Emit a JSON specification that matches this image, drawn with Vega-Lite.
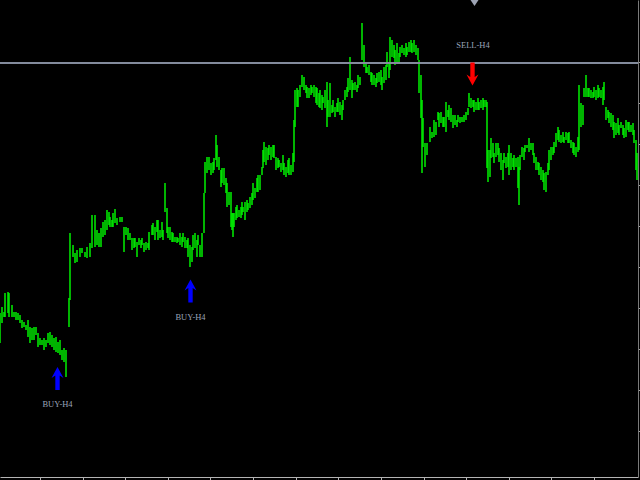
{
"$schema": "https://vega.github.io/schema/vega-lite/v6.json",
"width": 638,
"height": 477,
"autosize": {"type": "none"},
"padding": {"left": 0, "top": 0, "right": 2, "bottom": 3},
"background": "#000000",
"config": {"view": {"stroke": null}},
"datasets": {
"bars": [
{"t":0,"high":187,"low":157},{"t":2,"high":193,"low":177},{"t":4,"high":188,"low":183},{"t":5,"high":207,"low":183},{"t":8,"high":208,"low":187},{"t":9,"high":207,"low":183},{"t":12,"high":195,"low":183},{"t":14,"high":188,"low":183},{"t":16,"high":188,"low":180},{"t":18,"high":187,"low":180},{"t":20,"high":185,"low":177},{"t":22,"high":180,"low":172},{"t":24,"high":178,"low":173},{"t":26,"high":175,"low":170},{"t":28,"high":180,"low":163},{"t":30,"high":173,"low":157},{"t":32,"high":172,"low":160},{"t":34,"high":173,"low":160},{"t":36,"high":173,"low":165},{"t":38,"high":167,"low":153},{"t":40,"high":162,"low":155},{"t":42,"high":160,"low":155},{"t":44,"high":162,"low":150},{"t":46,"high":160,"low":153},{"t":48,"high":167,"low":157},{"t":50,"high":168,"low":155},{"t":52,"high":165,"low":153},{"t":54,"high":162,"low":150},{"t":56,"high":163,"low":148},{"t":58,"high":158,"low":147},{"t":60,"high":160,"low":145},{"t":62,"high":150,"low":140},{"t":64,"high":152,"low":138},{"t":66,"high":150,"low":123},{"t":69,"high":202,"low":173},{"t":70,"high":267,"low":200},{"t":73,"high":255,"low":243},{"t":75,"high":247,"low":237},{"t":77,"high":250,"low":238},{"t":80,"high":252,"low":243},{"t":82,"high":252,"low":247},{"t":85,"high":248,"low":243},{"t":87,"high":253,"low":242},{"t":90,"high":257,"low":243},{"t":92,"high":285,"low":252},{"t":95,"high":285,"low":253},{"t":97,"high":270,"low":255},{"t":99,"high":267,"low":253},{"t":101,"high":272,"low":253},{"t":103,"high":278,"low":263},{"t":105,"high":280,"low":265},{"t":107,"high":290,"low":270},{"t":109,"high":288,"low":275},
{"t":110,"high":283,"low":273},{"t":112,"high":280,"low":273},{"t":113,"high":287,"low":273},{"t":115,"high":291,"low":277},{"t":117,"high":282,"low":275},{"t":120,"high":283,"low":278},{"t":122,"high":283,"low":278},{"t":124,"high":273,"low":248},{"t":126,"high":273,"low":265},{"t":128,"high":272,"low":260},{"t":130,"high":267,"low":260},{"t":132,"high":262,"low":250},{"t":134,"high":262,"low":252},{"t":135,"high":262,"low":253},{"t":137,"high":258,"low":243},{"t":139,"high":262,"low":255},{"t":141,"high":260,"low":252},{"t":142,"high":262,"low":255},{"t":144,"high":257,"low":248},{"t":146,"high":258,"low":250},{"t":148,"high":257,"low":252},{"t":149,"high":268,"low":250},{"t":152,"high":275,"low":265},{"t":153,"high":277,"low":265},{"t":155,"high":273,"low":260},{"t":157,"high":280,"low":268},{"t":158,"high":280,"low":260},{"t":160,"high":270,"low":262},{"t":162,"high":278,"low":263},{"t":163,"high":270,"low":260},{"t":165,"high":317,"low":288},{"t":167,"high":292,"low":267},{"t":168,"high":273,"low":262},{"t":170,"high":273,"low":260},{"t":172,"high":268,"low":258},{"t":173,"high":267,"low":258},{"t":175,"high":263,"low":258},{"t":177,"high":263,"low":257},{"t":178,"high":262,"low":258},{"t":180,"high":267,"low":255},{"t":182,"high":263,"low":253},{"t":183,"high":267,"low":258},{"t":185,"high":263,"low":252},{"t":187,"high":260,"low":252},{"t":188,"high":262,"low":243},{"t":190,"high":255,"low":233},{"t":192,"high":253,"low":238},{"t":193,"high":265,"low":250},{"t":195,"high":267,"low":252},{"t":197,"high":260,"low":243},{"t":198,"high":265,"low":255},{"t":200,"high":255,"low":243},{"t":202,"high":267,"low":243},{"t":204,"high":307,"low":267},{"t":205,"high":338,"low":307},{"t":207,"high":343,"low":327},{"t":209,"high":343,"low":330},{"t":211,"high":337,"low":325},{"t":213,"high":338,"low":327},{"t":214,"high":342,"low":330},
{"t":216,"high":365,"low":340},{"t":217,"high":355,"low":333},{"t":219,"high":343,"low":330},{"t":221,"high":330,"low":313},{"t":222,"high":332,"low":317},{"t":224,"high":332,"low":315},{"t":226,"high":322,"low":307},{"t":227,"high":317,"low":293},{"t":229,"high":308,"low":295},{"t":231,"high":308,"low":273},{"t":232,"high":287,"low":270},{"t":233,"high":287,"low":263},{"t":234,"high":287,"low":273},{"t":236,"high":293,"low":280},{"t":237,"high":295,"low":282},{"t":239,"high":290,"low":283},{"t":241,"high":293,"low":282},{"t":242,"high":298,"low":285},{"t":243,"high":293,"low":288},{"t":245,"high":298,"low":280},{"t":247,"high":300,"low":288},{"t":248,"high":297,"low":290},{"t":250,"high":303,"low":292},{"t":252,"high":307,"low":295},{"t":253,"high":317,"low":300},{"t":255,"high":312,"low":302},{"t":257,"high":322,"low":308},{"t":258,"high":325,"low":308},{"t":260,"high":325,"low":310},{"t":262,"high":333,"low":325},{"t":263,"high":350,"low":332},{"t":264,"high":358,"low":338},{"t":266,"high":353,"low":335},{"t":268,"high":352,"low":340},{"t":269,"high":355,"low":345},{"t":271,"high":353,"low":340},{"t":273,"high":355,"low":343},{"t":274,"high":355,"low":342},{"t":276,"high":343,"low":330},{"t":278,"high":342,"low":332},{"t":279,"high":340,"low":333},{"t":281,"high":337,"low":328},{"t":283,"high":345,"low":330},{"t":284,"high":337,"low":325},{"t":286,"high":333,"low":323},{"t":288,"high":340,"low":327},{"t":289,"high":342,"low":325},{"t":291,"high":335,"low":325},{"t":293,"high":347,"low":328},{"t":294,"high":380,"low":338},{"t":295,"high":410,"low":373},{"t":297,"high":412,"low":393},{"t":298,"high":410,"low":393},{"t":300,"high":415,"low":403},{"t":302,"high":425,"low":413},{"t":304,"high":423,"low":410},{"t":306,"high":415,"low":407},{"t":307,"high":413,"low":402},{"t":309,"high":412,"low":402},{"t":311,"high":415,"low":405},{"t":312,"high":413,"low":407},{"t":314,"high":415,"low":403},{"t":316,"high":413,"low":397},{"t":317,"high":412,"low":395},{"t":319,"high":407,"low":393},
{"t":320,"high":410,"low":392},{"t":322,"high":405,"low":390},{"t":323,"high":403,"low":397},{"t":325,"high":410,"low":392},{"t":327,"high":418,"low":373},{"t":328,"high":400,"low":383},{"t":330,"high":417,"low":383},{"t":332,"high":395,"low":387},{"t":333,"high":400,"low":388},{"t":335,"high":393,"low":383},{"t":337,"high":397,"low":388},{"t":338,"high":402,"low":388},{"t":340,"high":398,"low":385},{"t":342,"high":395,"low":380},{"t":343,"high":400,"low":390},{"t":345,"high":410,"low":400},{"t":347,"high":413,"low":403},{"t":348,"high":422,"low":408},{"t":350,"high":443,"low":410},{"t":352,"high":420,"low":402},{"t":353,"high":417,"low":410},{"t":355,"high":418,"low":410},{"t":357,"high":415,"low":408},{"t":358,"high":425,"low":412},{"t":360,"high":423,"low":415},{"t":362,"high":477,"low":440},{"t":364,"high":455,"low":433},{"t":366,"high":437,"low":427},{"t":367,"high":433,"low":427},{"t":369,"high":435,"low":425},{"t":371,"high":428,"low":418},{"t":372,"high":427,"low":415},{"t":374,"high":425,"low":415},{"t":376,"high":422,"low":413},{"t":377,"high":427,"low":417},{"t":379,"high":428,"low":418},{"t":381,"high":430,"low":415},{"t":382,"high":423,"low":410},{"t":384,"high":433,"low":417},{"t":386,"high":435,"low":420},{"t":387,"high":448,"low":433},{"t":389,"high":437,"low":422},{"t":390,"high":463,"low":430},{"t":392,"high":460,"low":443},{"t":394,"high":455,"low":442},{"t":395,"high":450,"low":435},{"t":397,"high":457,"low":437},{"t":399,"high":447,"low":437},{"t":400,"high":453,"low":443},{"t":402,"high":455,"low":447},{"t":404,"high":452,"low":445},{"t":406,"high":457,"low":443},{"t":407,"high":453,"low":445},{"t":409,"high":458,"low":448},{"t":411,"high":460,"low":448},{"t":412,"high":457,"low":447},{"t":414,"high":460,"low":448},{"t":416,"high":455,"low":445},{"t":418,"high":452,"low":440},{"t":419,"high":440,"low":407},{"t":421,"high":425,"low":382},{"t":422,"high":400,"low":327},
{"t":423,"high":382,"low":353},{"t":425,"high":357,"low":333},{"t":427,"high":357,"low":345},{"t":430,"high":373,"low":358},{"t":432,"high":368,"low":362},{"t":434,"high":380,"low":363},{"t":436,"high":378,"low":365},{"t":438,"high":388,"low":380},{"t":439,"high":387,"low":373},{"t":441,"high":388,"low":377},{"t":443,"high":383,"low":373},{"t":444,"high":383,"low":373},{"t":446,"high":398,"low":368},{"t":448,"high":390,"low":383},{"t":449,"high":395,"low":380},{"t":451,"high":392,"low":378},{"t":453,"high":385,"low":372},{"t":455,"high":385,"low":375},{"t":457,"high":380,"low":373},{"t":458,"high":385,"low":378},{"t":460,"high":383,"low":377},{"t":462,"high":383,"low":378},{"t":464,"high":385,"low":378},{"t":466,"high":388,"low":380},{"t":468,"high":392,"low":385},{"t":469,"high":407,"low":393},{"t":471,"high":402,"low":392},{"t":473,"high":400,"low":393},{"t":474,"high":400,"low":388},{"t":476,"high":398,"low":390},{"t":478,"high":402,"low":390},{"t":479,"high":398,"low":390},{"t":481,"high":400,"low":392},{"t":483,"high":402,"low":390},{"t":484,"high":400,"low":393},{"t":486,"high":400,"low":393},{"t":487,"high":398,"low":332},{"t":488,"high":350,"low":318},{"t":490,"high":350,"low":323},{"t":491,"high":362,"low":342},{"t":493,"high":357,"low":343},{"t":494,"high":347,"low":337},{"t":496,"high":357,"low":343},{"t":498,"high":357,"low":345},{"t":499,"high":352,"low":338},{"t":501,"high":347,"low":330},{"t":503,"high":340,"low":320},{"t":504,"high":347,"low":337},{"t":506,"high":343,"low":332},{"t":508,"high":347,"low":333},{"t":509,"high":355,"low":325},{"t":511,"high":347,"low":330},{"t":513,"high":342,"low":333},{"t":514,"high":345,"low":330},{"t":516,"high":342,"low":333},{"t":518,"high":343,"low":312},{"t":519,"high":333,"low":295},{"t":520,"high":345,"low":330},{"t":522,"high":353,"low":343},{"t":524,"high":352,"low":340},{"t":525,"high":355,"low":348},{"t":527,"high":355,"low":352},
{"t":529,"high":362,"low":348},{"t":531,"high":357,"low":350},{"t":533,"high":357,"low":345},{"t":534,"high":347,"low":337},{"t":536,"high":343,"low":330},{"t":538,"high":338,"low":330},{"t":539,"high":337,"low":325},{"t":541,"high":333,"low":320},{"t":543,"high":330,"low":318},{"t":544,"high":327,"low":310},{"t":546,"high":328,"low":308},{"t":548,"high":337,"low":325},{"t":549,"high":350,"low":330},{"t":551,"high":353,"low":340},{"t":553,"high":353,"low":345},{"t":554,"high":358,"low":347},{"t":556,"high":367,"low":353},{"t":558,"high":373,"low":360},{"t":559,"high":370,"low":358},{"t":561,"high":365,"low":357},{"t":563,"high":368,"low":358},{"t":564,"high":363,"low":357},{"t":566,"high":368,"low":360},{"t":568,"high":367,"low":357},{"t":569,"high":368,"low":357},{"t":571,"high":360,"low":352},{"t":573,"high":358,"low":347},{"t":574,"high":357,"low":345},{"t":576,"high":353,"low":343},{"t":578,"high":363,"low":348},{"t":579,"high":415,"low":350},{"t":581,"high":397,"low":373},{"t":583,"high":395,"low":375},{"t":584,"high":412,"low":403},{"t":586,"high":425,"low":403},{"t":588,"high":412,"low":403},{"t":589,"high":412,"low":403},{"t":591,"high":410,"low":402},{"t":593,"high":408,"low":402},{"t":594,"high":413,"low":403},{"t":596,"high":410,"low":400},{"t":598,"high":415,"low":402},{"t":599,"high":412,"low":403},{"t":601,"high":410,"low":402},{"t":603,"high":413,"low":395},{"t":604,"high":418,"low":400},{"t":606,"high":393,"low":380},{"t":608,"high":390,"low":382},{"t":609,"high":388,"low":377},{"t":611,"high":387,"low":373},{"t":613,"high":385,"low":370},{"t":614,"high":378,"low":362},{"t":616,"high":377,"low":365},{"t":618,"high":382,"low":367},{"t":619,"high":375,"low":365},{"t":621,"high":378,"low":372},{"t":623,"high":375,"low":365},{"t":624,"high":372,"low":362},{"t":626,"high":380,"low":363},{"t":628,"high":378,"low":370},{"t":629,"high":378,"low":368},{"t":631,"high":375,"low":368},{"t":633,"high":377,"low":365},{"t":634,"high":370,"low":357},{"t":636,"high":360,"low":330},{"t":637,"high":347,"low":320}
],
"levels": [{"price": 437}],
"signals": [
{"t": 57.5, "price": 121.5, "side": "BUY"},
{"t": 190.5, "price": 209, "side": "BUY"},
{"t": 472.5, "price": 426, "side": "SELL"}
],
"labels": [
{"t": 57.5, "price": 96, "text": "BUY-H4"},
{"t": 190.5, "price": 183, "text": "BUY-H4"},
{"t": 473, "price": 455, "text": "SELL-H4"}
],
"markers": [{"t": 474.5, "price": 497}]
},
"layer": [
{
"data": {"name": "bars"},
"mark": {"type": "rule", "color": "#00f000", "strokeWidth": 1.5},
"encoding": {
"x": {"field": "t", "type": "quantitative",
"scale": {"domain": [0, 638], "nice": false, "zero": false},
"axis": {"orient": "bottom", "title": null, "labels": false, "grid": false,
"values": [40, 83, 125, 168, 210, 253, 296, 338, 381, 424, 466, 509, 551, 594],
"domainColor": "#b4b4b4", "tickColor": "#b4b4b4", "tickSize": 3, "domainWidth": 1, "tickWidth": 1}},
"y": {"field": "high", "type": "quantitative",
"scale": {"domain": [23, 500], "nice": false, "zero": false},
"axis": {"orient": "right", "title": null, "labels": false, "grid": false,
"values": [438, 397, 356, 315, 274, 233, 192, 151, 110, 69],
"domainColor": "#7a7a7a", "tickColor": "#a0a0a0", "tickSize": 2, "domainWidth": 1, "tickWidth": 1}},
"y2": {"field": "low"}
}
},
{
"data": {"name": "levels"},
"mark": {"type": "rule", "color": "#838b9c", "strokeWidth": 2},
"encoding": {"y": {"field": "price", "type": "quantitative"}}
},
{
"data": {"name": "signals"},
"mark": {"type": "point", "filled": true, "opacity": 1, "size": 529, "strokeWidth": 0},
"encoding": {
"x": {"field": "t", "type": "quantitative"},
"y": {"field": "price", "type": "quantitative"},
"shape": {"field": "side", "type": "nominal", "legend": null,
"scale": {"domain": ["BUY", "SELL"], "range": ["M0,-1L0.52,-0.05L0.19,-0.26L0.19,1L-0.19,1L-0.19,-0.26L-0.52,-0.05Z", "M0,1L0.52,0.05L0.19,0.26L0.19,-1L-0.19,-1L-0.19,0.26L-0.52,0.05Z"]}},
"color": {"field": "side", "type": "nominal", "legend": null,
"scale": {"domain": ["BUY", "SELL"], "range": ["#0000ff", "#ff0000"]}}
}
},
{
"data": {"name": "labels"},
"mark": {"type": "text", "font": "Liberation Serif", "fontSize": 8.5, "color": "#9aa4b8", "baseline": "middle", "align": "center"},
"encoding": {
"x": {"field": "t", "type": "quantitative"},
"y": {"field": "price", "type": "quantitative"},
"text": {"field": "text", "type": "nominal"}
}
},
{
"data": {"name": "markers"},
"mark": {"type": "point", "filled": true, "opacity": 1, "size": 64, "strokeWidth": 0, "color": "#9ea4b4", "shape": "M-1,-0.75L1,-0.75L0,0.75Z"},
"encoding": {
"x": {"field": "t", "type": "quantitative"},
"y": {"field": "price", "type": "quantitative"}
}
}
]
}
